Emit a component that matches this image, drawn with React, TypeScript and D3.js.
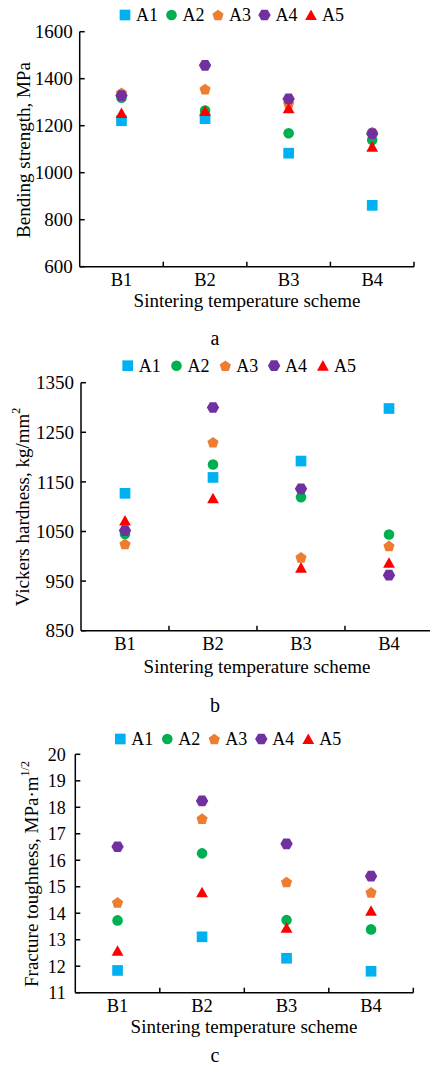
import React from "react";
import * as d3 from "d3";

// ---------- DATA ----------
const categories = ["B1", "B2", "B3", "B4"];
const seriesNames = ["A1", "A2", "A3", "A4", "A5"];

// (a) Bending strength, MPa
const bendingA1 = [1221, 1230, 1083, 861];
const bendingA2 = [1319, 1265, 1168, 1139];
const bendingA3 = [1340, 1356, 1295, 1173];
const bendingA4 = [1328, 1457, 1314, 1166];
const bendingA5 = [1254, 1263, 1274, 1111];
const bendingTicks = [600, 800, 1000, 1200, 1400, 1600];

// (b) Vickers hardness, kg/mm2
const hardnessA1 = [1127, 1159, 1192, 1298];
const hardnessA2 = [1045, 1185, 1119, 1044];
const hardnessA3 = [1025, 1230, 998, 1021];
const hardnessA4 = [1052, 1300, 1136, 962];
const hardnessA5 = [1072, 1117, 977, 987];
const hardnessTicks = [850, 950, 1050, 1150, 1250, 1350];

// (c) Fracture toughness, MPa·m1/2
const toughnessA1 = [11.84, 13.11, 12.3, 11.81];
const toughnessA2 = [13.73, 16.26, 13.74, 13.39];
const toughnessA3 = [14.41, 17.57, 15.18, 14.79];
const toughnessA4 = [16.51, 18.24, 16.62, 15.4];
const toughnessA5 = [12.58, 14.79, 13.45, 14.09];
const toughnessTicks = [11, 12, 13, 14, 15, 16, 17, 18, 19, 20];

// ---------- STYLE ----------
const FONT = "'Liberation Serif', 'Times New Roman', serif";
const colors = ["#00B0F0", "#00B050", "#ED7D31", "#7030A0", "#FF0000"];

const pentagon = {
  draw(ctx: any, size: number) {
    const r = Math.sqrt(size);
    for (let i = 0; i < 5; i++) {
      const a = -Math.PI / 2 + (i * 2 * Math.PI) / 5;
      const x = r * Math.cos(a);
      const y = r * Math.sin(a) + r * 0.1;
      if (i === 0) ctx.moveTo(x, y);
      else ctx.lineTo(x, y);
    }
    ctx.closePath();
  },
};
const hexagon = {
  draw(ctx: any, size: number) {
    const r = Math.sqrt(size);
    for (let i = 0; i < 6; i++) {
      const a = (i * Math.PI) / 3;
      const x = r * Math.cos(a);
      const y = r * Math.sin(a);
      if (i === 0) ctx.moveTo(x, y);
      else ctx.lineTo(x, y);
    }
    ctx.closePath();
  },
};
const triangle = {
  draw(ctx: any, size: number) {
    const r = Math.sqrt(size);
    ctx.moveTo(0, -r * 0.95);
    ctx.lineTo(r, r * 0.85);
    ctx.lineTo(-r, r * 0.85);
    ctx.closePath();
  },
};

const symbolPaths = [
  d3.symbol().type(d3.symbolSquare).size(114)(),
  d3.symbol().type(d3.symbolCircle).size(88)(),
  d3.symbol().type(pentagon as any).size(5.9 * 5.9)(),
  d3.symbol().type(hexagon as any).size(6.2 * 6.2)(),
  d3.symbol().type(triangle as any).size(5.9 * 5.9)(),
];

type PanelProps = {
  series: number[][];
  domain: [number, number];
  ticks: number[];
  left: number;
  right: number;
  top: number;
  bottom: number;
  tickFont: number;
  tickGap: number;
  yTitle: string;
  ySup?: string;
  yTitleX: number;
  yTitleY: number;
  xTitleY: number;
  xTitleX: number;
  legendY: number;
  legendX0: number;
  legendStep: number;
  caption: string;
  captionY: number;
};

function Panel(p: PanelProps) {
  const x = d3.scaleBand<string>().domain(categories).range([p.left, p.right]);
  const y = d3.scaleLinear().domain(p.domain).range([p.bottom, p.top]);
  const bw = x.bandwidth();
  const boundaries = categories.map((c) => (x(c) as number) + bw);
  return (
    <g>
      {/* legend */}
      {seriesNames.map((name, i) => {
        const lx = p.legendX0 + i * p.legendStep;
        return (
          <g key={name}>
            <path d={symbolPaths[i] as string} transform={`translate(${lx},${p.legendY})`} fill={colors[i]} />
            <text x={lx + 11} y={p.legendY + 6} fontSize={18} fontFamily={FONT} fill="#000">
              {name}
            </text>
          </g>
        );
      })}
      {/* axes */}
      <line x1={p.left} x2={p.left} y1={p.top} y2={p.bottom} stroke="#000" strokeWidth={1.5} />
      <line x1={p.left} x2={p.right} y1={p.bottom} y2={p.bottom} stroke="#000" strokeWidth={1.5} />
      {p.ticks.map((t) => (
        <g key={t}>
          <line x1={p.left} x2={p.left + 5} y1={y(t)} y2={y(t)} stroke="#000" strokeWidth={1.5} />
          <text
            x={p.left - p.tickGap}
            y={y(t)}
            dy="0.35em"
            textAnchor="end"
            fontSize={p.tickFont}
            fontFamily={FONT}
            fill="#000"
          >
            {t}
          </text>
        </g>
      ))}
      {boundaries.map((bx, i) => (
        <line key={i} x1={bx} x2={bx} y1={p.bottom} y2={p.bottom - 5} stroke="#000" strokeWidth={1.5} />
      ))}
      {categories.map((c) => (
        <text
          key={c}
          x={(x(c) as number) + bw / 2}
          y={p.bottom + 19.5}
          textAnchor="middle"
          fontSize={18.5}
          fontFamily={FONT}
          fill="#000"
        >
          {c}
        </text>
      ))}
      {/* titles */}
      <text x={p.xTitleX} y={p.xTitleY} textAnchor="middle" fontSize={19} fontFamily={FONT} fill="#000">
        Sintering temperature scheme
      </text>
      <text
        transform={`translate(${p.yTitleX},${p.yTitleY}) rotate(-90)`}
        textAnchor="middle"
        fontSize={19}
        fontFamily={FONT}
        fill="#000"
      >
        {p.yTitle}
        {p.ySup ? (
          <tspan fontSize={12} dy={-9}>
            {p.ySup}
          </tspan>
        ) : null}
      </text>
      <text x={215} y={p.captionY} textAnchor="middle" fontSize={20} fontFamily={FONT} fill="#000">
        {p.caption}
      </text>
      {/* points */}
      {p.series.map((vals, si) =>
        vals.map((v, ci) => (
          <path
            key={`${si}-${ci}`}
            d={symbolPaths[si] as string}
            transform={`translate(${(x(categories[ci]) as number) + bw / 2},${y(v)})`}
            fill={colors[si]}
          />
        ))
      )}
    </g>
  );
}

export default function App() {
  return (
    <svg
      width={430}
      height={1066}
      style={{ position: "absolute", left: 0, top: 0, background: "#fff" }}
    >
      <rect width={430} height={1066} fill="#fff" />
      <Panel
        series={[bendingA1, bendingA2, bendingA3, bendingA4, bendingA5]}
        domain={[600, 1600]}
        ticks={bendingTicks}
        left={79.7}
        right={414}
        top={31.7}
        bottom={266.7}
        tickFont={19}
        tickGap={7}
        yTitle="Bending strength, MPa"
        yTitleX={30}
        yTitleY={150}
        xTitleX={247}
        xTitleY={307}
        legendY={15}
        legendX0={125}
        legendStep={46.5}
        caption="a"
        captionY={345}
      />
      <Panel
        series={[hardnessA1, hardnessA2, hardnessA3, hardnessA4, hardnessA5]}
        domain={[850, 1350]}
        ticks={hardnessTicks}
        left={81}
        right={433}
        top={382.7}
        bottom={630.7}
        tickFont={19}
        tickGap={7}
        yTitle="Vickers hardness, kg/mm"
        ySup="2"
        yTitleX={28.5}
        yTitleY={507}
        xTitleX={257}
        xTitleY={672.5}
        legendY={365.7}
        legendX0={127.7}
        legendStep={48.8}
        caption="b"
        captionY={712}
      />
      <Panel
        series={[toughnessA1, toughnessA2, toughnessA3, toughnessA4, toughnessA5]}
        domain={[11, 20]}
        ticks={toughnessTicks}
        left={75.3}
        right={413.3}
        top={754.3}
        bottom={992.7}
        tickFont={18}
        tickGap={9.6}
        yTitle="Fracture toughness, MPa·m"
        ySup="1/2"
        yTitleX={38}
        yTitleY={874}
        xTitleX={244}
        xTitleY={1032.5}
        legendY={739}
        legendX0={120.3}
        legendStep={47}
        caption="c"
        captionY={1061.5}
      />
    </svg>
  );
}
